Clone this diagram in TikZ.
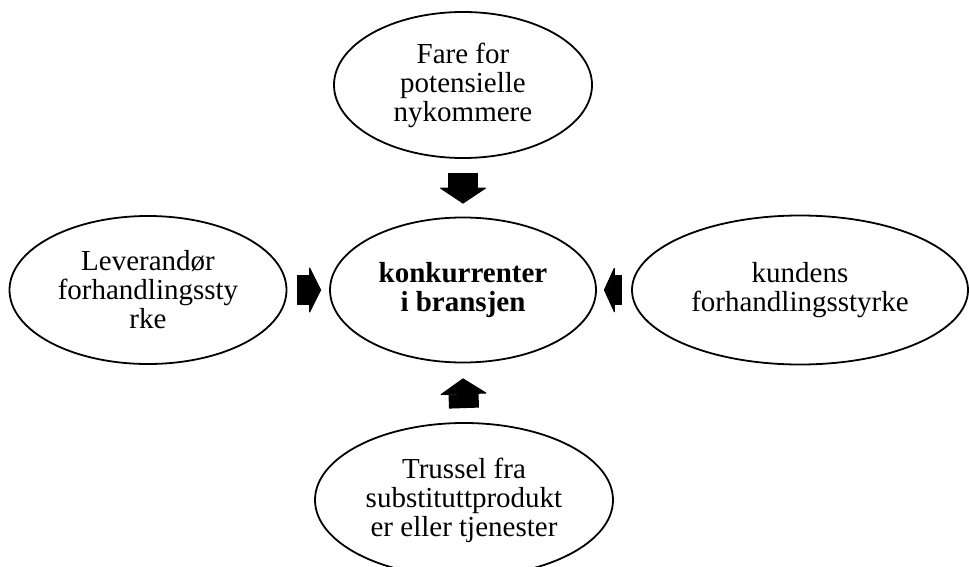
\documentclass[tikz,border=0pt]{standalone}
\usepackage{fontspec}
\setmainfont{Liberation Serif}
\usetikzlibrary{shapes.geometric,arrows.meta}
\begin{document}
\begin{tikzpicture}[x=1pt,y=1pt,line join=round,
	font=\fontsize{29}{29}\selectfont,
	kraft/.style={ellipse,draw,line width=1.8pt,inner sep=0pt,align=center},
	pil/.style={line width=30pt,-{Triangle[width=48pt,length=#1,line width=1pt,round]}},
	pil/.default=16pt]
	\useasboundingbox (0,0) rectangle (969,566);
	% de fem kreftene
	\node[kraft,minimum width=258pt,minimum height=146pt] (fare) at (463,481) {Fare for\\potensielle\\nykommere};
	\node[kraft,minimum width=266pt,minimum height=145pt,font=\fontsize{29}{29}\selectfont\bfseries] (konk) at (463,276) {konkurrenter\\i bransjen};
	\node[kraft,minimum width=277pt,minimum height=148pt] (lev) at (148,276) {Leverandør\\forhandlingssty\\rke};
	\node[kraft,minimum width=336pt,minimum height=149pt] (kund) at (800,276) {kundens\\forhandlingsstyrke};
	\node[kraft,minimum width=298pt,minimum height=154pt] (subst) at (464,66) {Trussel fra\\substituttprodukt\\er eller tjenester};
	% piler
	\draw[pil] ([yshift=-14pt]fare.south) -- ([yshift=13pt]konk.north);
	\draw[pil] ([yshift=14pt]subst.north) -- ([yshift=-15pt]konk.south);
	\draw[pil=12pt] ([xshift=10pt]lev.east) -- ([xshift=-8pt]konk.west);
	\draw[pil=11pt] ([xshift=-9pt]kund.west) -- ([xshift=7pt]konk.east);
\end{tikzpicture}
\end{document}
